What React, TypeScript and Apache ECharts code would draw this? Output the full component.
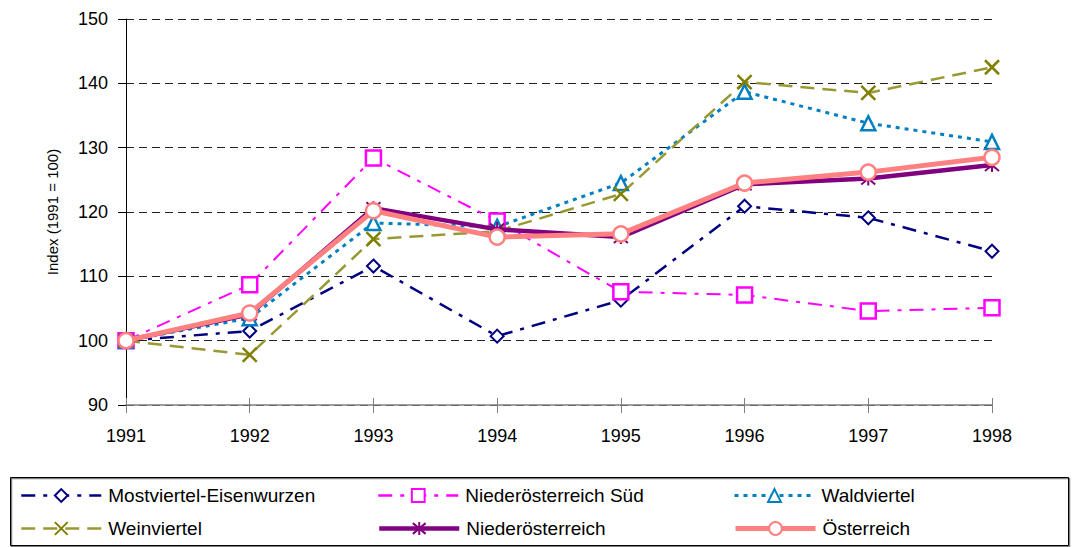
import React, { useEffect, useRef } from "react";
import * as echarts from "echarts";

const years = ["1991", "1992", "1993", "1994", "1995", "1996", "1997", "1998"];
const mostviertel = [100, 101.5, 111.6, 100.7, 106.3, 120.9, 119.1, 113.9];
const noeSued = [100, 108.7, 128.4, 118.6, 107.6, 107.1, 104.6, 105.1];
const waldviertel = [100, 103.5, 118.3, 117.7, 124.5, 138.7, 133.8, 130.9];
const weinviertel = [100, 97.8, 115.8, 117.0, 122.8, 140.2, 138.5, 142.5];
const niederoesterreich = [100, 104.1, 120.6, 117.3, 116.1, 124.3, 125.2, 127.3];
const oesterreich = [100, 104.3, 120.2, 116.1, 116.6, 124.5, 126.2, 128.5];

const FONT = "Liberation Sans, Arial, sans-serif";
const CROSS = "path://M0,0L10,10M10,0L0,10";
const ASTER = "path://M5,0L5,10M0.8,0.8L9.2,9.2M9.2,0.8L0.8,9.2";

export default function App() {
  const ref = useRef<HTMLDivElement>(null);
  useEffect(() => {
    if (!ref.current) return;
    const chart = echarts.init(ref.current, null, { renderer: "svg" });
    const mk = (left: number, top: number, name: string, width: number) => ({
      left,
      top,
      orient: "horizontal",
      padding: 0,
      itemWidth: 80,
      itemHeight: 16,
      itemGap: 0,
      selectedMode: false,
      lineStyle: { width },
      textStyle: { fontFamily: FONT, fontSize: 19, color: "#000", padding: [0, 0, 0, 2] },
      data: [name],
    });
    chart.setOption({
      animation: false,
      backgroundColor: "#fff",
      grid: { left: 126, right: 81, top: 19, bottom: 142 },
      legend: [
        mk(20, 486, "Mostviertel-Eisenwurzen", 2.5),
        mk(377, 486, "Niederösterreich Süd", 2.5),
        mk(733, 486, "Waldviertel", 3),
        mk(20, 519, "Weinviertel", 2.5),
        mk(377, 519, "Niederösterreich", 4.5),
        mk(733, 519, "Österreich", 5),
      ],
      graphic: [
        {
          type: "rect",
          shape: { x: 11.5, y: 478.5, width: 1058, height: 68 },
          style: { fill: "none", stroke: "#808080", lineWidth: 1.5 },
          silent: true,
        },
        {
          type: "rect",
          shape: { x: 10.5, y: 477.5, width: 1058, height: 68 },
          style: { fill: "none", stroke: "#000", lineWidth: 1 },
          silent: true,
        },
      ],
      xAxis: [
        {
          type: "category",
          data: years,
          boundaryGap: false,
          axisLine: { lineStyle: { color: "#808080", width: 1.5 } },
          axisTick: { alignWithLabel: true, length: 8, lineStyle: { color: "#808080" } },
          axisLabel: { fontFamily: FONT, fontSize: 18, color: "#000", margin: 22 },
        },
        {
          type: "category",
          data: years,
          boundaryGap: false,
          position: "bottom",
          axisLine: { show: false },
          axisTick: { show: true, inside: true, length: 7, lineStyle: { color: "#808080" } },
          axisLabel: { show: false },
        },
      ],
      yAxis: {
        type: "value",
        min: 90,
        max: 150,
        interval: 10,
        name: "Index (1991 = 100)",
        nameLocation: "middle",
        nameGap: 66,
        nameTextStyle: { fontFamily: FONT, fontSize: 15, color: "#000" },
        axisLine: { show: true, lineStyle: { color: "#000", width: 1 } },
        axisTick: { show: true, length: 8, lineStyle: { color: "#000" } },
        axisLabel: { fontFamily: FONT, fontSize: 18, color: "#000", margin: 18 },
        splitLine: { show: true, lineStyle: { color: "#222", type: [8, 5], width: 1 } },
      },
      series: [
        {
          name: "Mostviertel-Eisenwurzen",
          type: "line",
          data: mostviertel,
          symbol: "diamond",
          symbolSize: 13,
          lineStyle: { color: "#000080", width: 2.5, type: [14, 8, 4, 8] },
          itemStyle: { color: "#fff", borderColor: "#000080", borderWidth: 2 },
          z: 2,
        },
        {
          name: "Niederösterreich Süd",
          type: "line",
          data: noeSued,
          symbol: "rect",
          symbolSize: 15,
          lineStyle: { color: "#FF00FF", width: 2, type: [14, 8, 4, 8] },
          itemStyle: { color: "#fff", borderColor: "#FF00FF", borderWidth: 2.5 },
          z: 2,
        },
        {
          name: "Waldviertel",
          type: "line",
          data: waldviertel,
          symbol: "triangle",
          symbolSize: 14,
          lineStyle: { color: "#0080C0", width: 3, type: [4, 5] },
          itemStyle: { color: "#fff", borderColor: "#0080C0", borderWidth: 2.5 },
          z: 2,
        },
        {
          name: "Weinviertel",
          type: "line",
          data: weinviertel,
          symbol: CROSS,
          symbolSize: 14,
          lineStyle: { color: "#999933", width: 2.5, type: [14, 8] },
          itemStyle: { color: "none", borderColor: "#808000", borderWidth: 2.5 },
          z: 2,
        },
        {
          name: "Niederösterreich",
          type: "line",
          data: niederoesterreich,
          symbol: ASTER,
          symbolSize: 14,
          lineStyle: { color: "#800080", width: 4.5 },
          itemStyle: { color: "none", borderColor: "#800080", borderWidth: 2 },
          z: 3,
        },
        {
          name: "Österreich",
          type: "line",
          data: oesterreich,
          symbol: "circle",
          symbolSize: 15,
          lineStyle: { color: "#FF8080", width: 5 },
          itemStyle: { color: "#fff", borderColor: "#FF8080", borderWidth: 2.5 },
          z: 4,
        },
      ],
    });
    return () => chart.dispose();
  }, []);
  return <div ref={ref} style={{ width: 1073, height: 547, position: "absolute", left: 0, top: 0 }} />;
}
